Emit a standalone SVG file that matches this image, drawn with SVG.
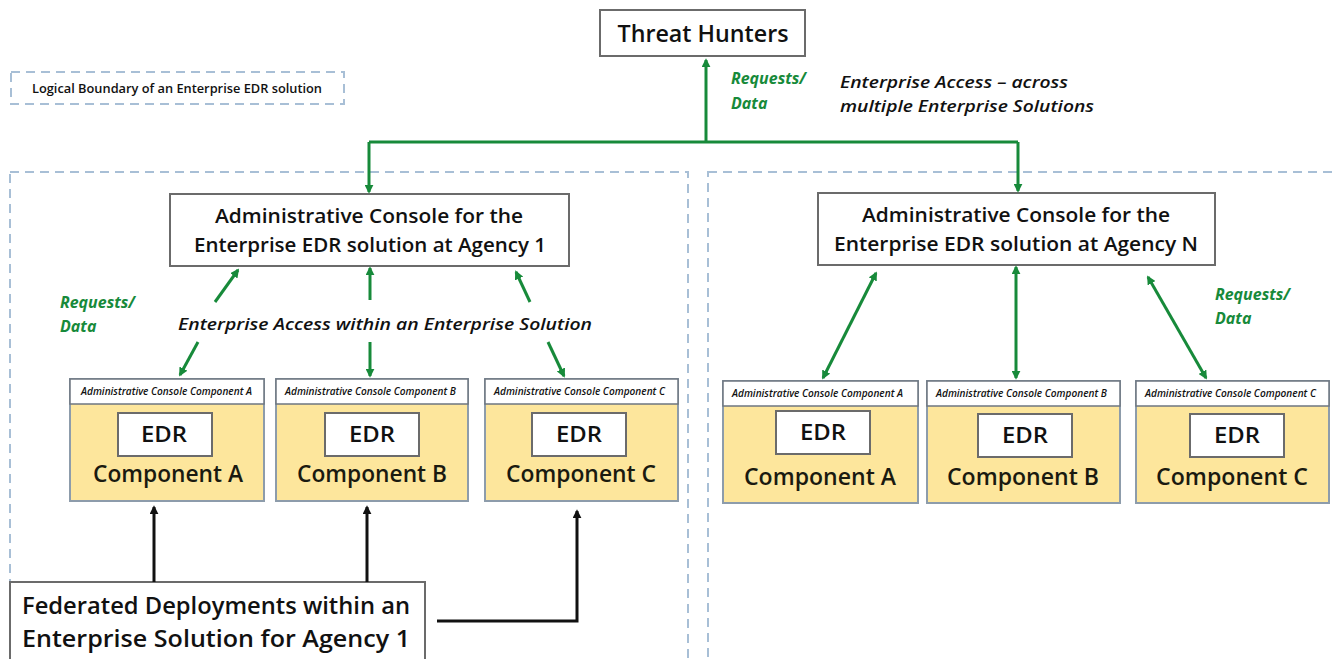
<svg xmlns="http://www.w3.org/2000/svg" width="1332" height="659" viewBox="0 0 1332 659">
<defs>
<style>
.bnd{fill:none;stroke:#a8bfd6;stroke-width:2;stroke-dasharray:9,6}
.box{fill:#fff;stroke:#6b6b6b;stroke-width:2}
.comp{fill:#fde69c;stroke:#8d9cab;stroke-width:2}
.hdr{fill:#fff;stroke:#6d7680;stroke-width:1.5}
.edr{fill:#fff;stroke:#6b6b6b;stroke-width:2}
.t{font-family:"Open Sans","Liberation Sans",Arial,sans-serif;fill:#111;font-weight:600}
.g{stroke:#178a3a;stroke-width:3;fill:none}
.k{stroke:#111;stroke-width:3;fill:none}
.gt{font-family:"Open Sans","Liberation Sans",Arial,sans-serif;fill:#178a3a;font-style:italic;font-weight:bold;font-size:16px}
.it{font-family:"Open Sans","Liberation Sans",Arial,sans-serif;fill:#111;font-style:italic;font-weight:600;font-size:17px}
.ht{font-family:"Open Sans","Liberation Sans",Arial,sans-serif;fill:#111;font-style:italic;font-weight:600;font-size:10.5px}
.ct{font-family:"Open Sans","Liberation Sans",Arial,sans-serif;fill:#1a1a10;font-weight:600;font-size:23px;text-anchor:middle}
.et{font-family:"Open Sans","Liberation Sans",Arial,sans-serif;fill:#111;font-weight:600;font-size:21px;text-anchor:middle}
.at{font-family:"Open Sans","Liberation Sans",Arial,sans-serif;fill:#111;font-weight:600;font-size:20px;text-anchor:middle}
</style>
<marker id="ga" viewBox="0 0 10 10" refX="8" refY="5" markerWidth="9" markerHeight="9" markerUnits="userSpaceOnUse" orient="auto-start-reverse"><path d="M0,0 L10,5 L0,10 z" fill="#178a3a"/></marker>
<marker id="ka" viewBox="0 0 10 10" refX="8" refY="5" markerWidth="9" markerHeight="9" markerUnits="userSpaceOnUse" orient="auto-start-reverse"><path d="M0,0 L10,5 L0,10 z" fill="#111"/></marker>
</defs>
<rect width="1332" height="659" fill="#fff"/>

<g id="legend">
<rect class="bnd" x="11" y="72" width="333" height="32"/>
<text class="t" x="32" y="93" font-size="12.5" font-weight="bold" textLength="290" lengthAdjust="spacingAndGlyphs">Logical Boundary of an Enterprise EDR solution</text>
</g>

<g id="boundary-agency1"><rect class="bnd" x="10" y="172" width="678" height="520"/></g>
<g id="boundary-agencyN"><rect class="bnd" x="708" y="172" width="660" height="520"/></g>

<g id="threat-hunters">
<rect class="box" x="600" y="10" width="205" height="46"/>
<text class="t" x="703" y="42" font-size="23" font-weight="bold" text-anchor="middle" textLength="171" lengthAdjust="spacingAndGlyphs">Threat Hunters</text>
</g>

<g id="console-agency1">
<rect class="box" x="170" y="194" width="399" height="72"/>
<text class="at" x="369" y="223" textLength="308" lengthAdjust="spacingAndGlyphs">Administrative Console for the</text>
<text class="at" x="370" y="252" textLength="352" lengthAdjust="spacingAndGlyphs">Enterprise EDR solution at Agency 1</text>
</g>
<g id="console-agencyN">
<rect class="box" x="818" y="193" width="397" height="72"/>
<text class="at" x="1016" y="222" textLength="308" lengthAdjust="spacingAndGlyphs">Administrative Console for the</text>
<text class="at" x="1016" y="251" textLength="364" lengthAdjust="spacingAndGlyphs">Enterprise EDR solution at Agency N</text>
</g>

<g id="a1-compA">
<rect class="comp" x="70" y="379" width="194" height="122"/>
<rect class="hdr" x="70" y="379" width="194" height="25"/>
<text class="ht" x="81" y="395" textLength="171" lengthAdjust="spacingAndGlyphs">Administrative Console Component A</text>
<rect class="edr" x="118" y="413" width="94" height="43"/>
<text class="et" x="164" y="442" textLength="46" lengthAdjust="spacingAndGlyphs">EDR</text>
<text class="ct" x="168" y="482" textLength="150" lengthAdjust="spacingAndGlyphs">Component A</text>
</g>
<g id="a1-compB">
<rect class="comp" x="276" y="379" width="192" height="122"/>
<rect class="hdr" x="276" y="379" width="192" height="25"/>
<text class="ht" x="285" y="395" textLength="171" lengthAdjust="spacingAndGlyphs">Administrative Console Component B</text>
<rect class="edr" x="325" y="413" width="94" height="43"/>
<text class="et" x="372" y="442" textLength="46" lengthAdjust="spacingAndGlyphs">EDR</text>
<text class="ct" x="372" y="482" textLength="150" lengthAdjust="spacingAndGlyphs">Component B</text>
</g>
<g id="a1-compC">
<rect class="comp" x="485" y="379" width="193" height="122"/>
<rect class="hdr" x="485" y="379" width="193" height="25"/>
<text class="ht" x="494" y="395" textLength="171" lengthAdjust="spacingAndGlyphs">Administrative Console Component C</text>
<rect class="edr" x="532" y="413" width="94" height="43"/>
<text class="et" x="579" y="442" textLength="46" lengthAdjust="spacingAndGlyphs">EDR</text>
<text class="ct" x="581" y="482" textLength="150" lengthAdjust="spacingAndGlyphs">Component C</text>
</g>

<g id="aN-compA">
<rect class="comp" x="723" y="381" width="195" height="122"/>
<rect class="hdr" x="723" y="381" width="195" height="25"/>
<text class="ht" x="732" y="397" textLength="171" lengthAdjust="spacingAndGlyphs">Administrative Console Component A</text>
<rect class="edr" x="776" y="411" width="94" height="43"/>
<text class="et" x="823" y="440" textLength="46" lengthAdjust="spacingAndGlyphs">EDR</text>
<text class="ct" x="820" y="485" textLength="152" lengthAdjust="spacingAndGlyphs">Component A</text>
</g>
<g id="aN-compB">
<rect class="comp" x="927" y="381" width="193" height="122"/>
<rect class="hdr" x="927" y="381" width="193" height="25"/>
<text class="ht" x="936" y="397" textLength="171" lengthAdjust="spacingAndGlyphs">Administrative Console Component B</text>
<rect class="edr" x="978" y="414" width="94" height="43"/>
<text class="et" x="1025" y="443" textLength="46" lengthAdjust="spacingAndGlyphs">EDR</text>
<text class="ct" x="1023" y="485" textLength="152" lengthAdjust="spacingAndGlyphs">Component B</text>
</g>
<g id="aN-compC">
<rect class="comp" x="1136" y="381" width="193" height="122"/>
<rect class="hdr" x="1136" y="381" width="193" height="25"/>
<text class="ht" x="1145" y="397" textLength="171" lengthAdjust="spacingAndGlyphs">Administrative Console Component C</text>
<rect class="edr" x="1190" y="414" width="94" height="43"/>
<text class="et" x="1237" y="443" textLength="46" lengthAdjust="spacingAndGlyphs">EDR</text>
<text class="ct" x="1232" y="485" textLength="152" lengthAdjust="spacingAndGlyphs">Component C</text>
</g>

<g id="federated">
<rect class="box" x="10" y="582" width="415" height="100"/>
<text class="t" x="22" y="614" font-size="23" textLength="388" lengthAdjust="spacingAndGlyphs">Federated Deployments within an</text>
<text class="t" x="22" y="647" font-size="23" textLength="388" lengthAdjust="spacingAndGlyphs">Enterprise Solution for Agency 1</text>
</g>

<g id="connectors">
<path class="g" d="M706,142 V60" marker-end="url(#ga)"/>
<path class="g" d="M369,142 H1018"/>
<path class="g" d="M369,142 V192" marker-end="url(#ga)"/>
<path class="g" d="M1018,142 V191" marker-end="url(#ga)"/>
<path class="g" d="M215,302 L238,270" marker-end="url(#ga)"/>
<path class="g" d="M198,342 L180,375" marker-end="url(#ga)"/>
<path class="g" d="M370,300 V268" marker-end="url(#ga)"/>
<path class="g" d="M370,342 V376" marker-end="url(#ga)"/>
<path class="g" d="M530,302 L516,272" marker-end="url(#ga)"/>
<path class="g" d="M548,342 L564,376" marker-end="url(#ga)"/>
<path class="g" d="M876,273 L823,378" marker-start="url(#ga)" marker-end="url(#ga)"/>
<path class="g" d="M1016,267 V378" marker-start="url(#ga)" marker-end="url(#ga)"/>
<path class="g" d="M1148,277 L1206,378" marker-start="url(#ga)" marker-end="url(#ga)"/>
<path class="k" d="M154,582 V507" marker-end="url(#ka)"/>
<path class="k" d="M367,582 V507" marker-end="url(#ka)"/>
<path class="k" d="M437,621 H577 V511" marker-end="url(#ka)"/>
</g>

<g id="labels">
<text class="gt" x="731" y="84" textLength="75" lengthAdjust="spacingAndGlyphs">Requests/</text>
<text class="gt" x="731" y="109">Data</text>
<text class="it" x="840" y="88" textLength="228" lengthAdjust="spacingAndGlyphs">Enterprise Access – across</text>
<text class="it" x="840" y="112" textLength="254" lengthAdjust="spacingAndGlyphs">multiple Enterprise Solutions</text>
<text class="gt" x="60" y="308" textLength="75" lengthAdjust="spacingAndGlyphs">Requests/</text>
<text class="gt" x="60" y="332">Data</text>
<text class="it" x="178" y="330" textLength="414" lengthAdjust="spacingAndGlyphs">Enterprise Access within an Enterprise Solution</text>
<text class="gt" x="1215" y="300" textLength="75" lengthAdjust="spacingAndGlyphs">Requests/</text>
<text class="gt" x="1215" y="324">Data</text>
</g>
</svg>
